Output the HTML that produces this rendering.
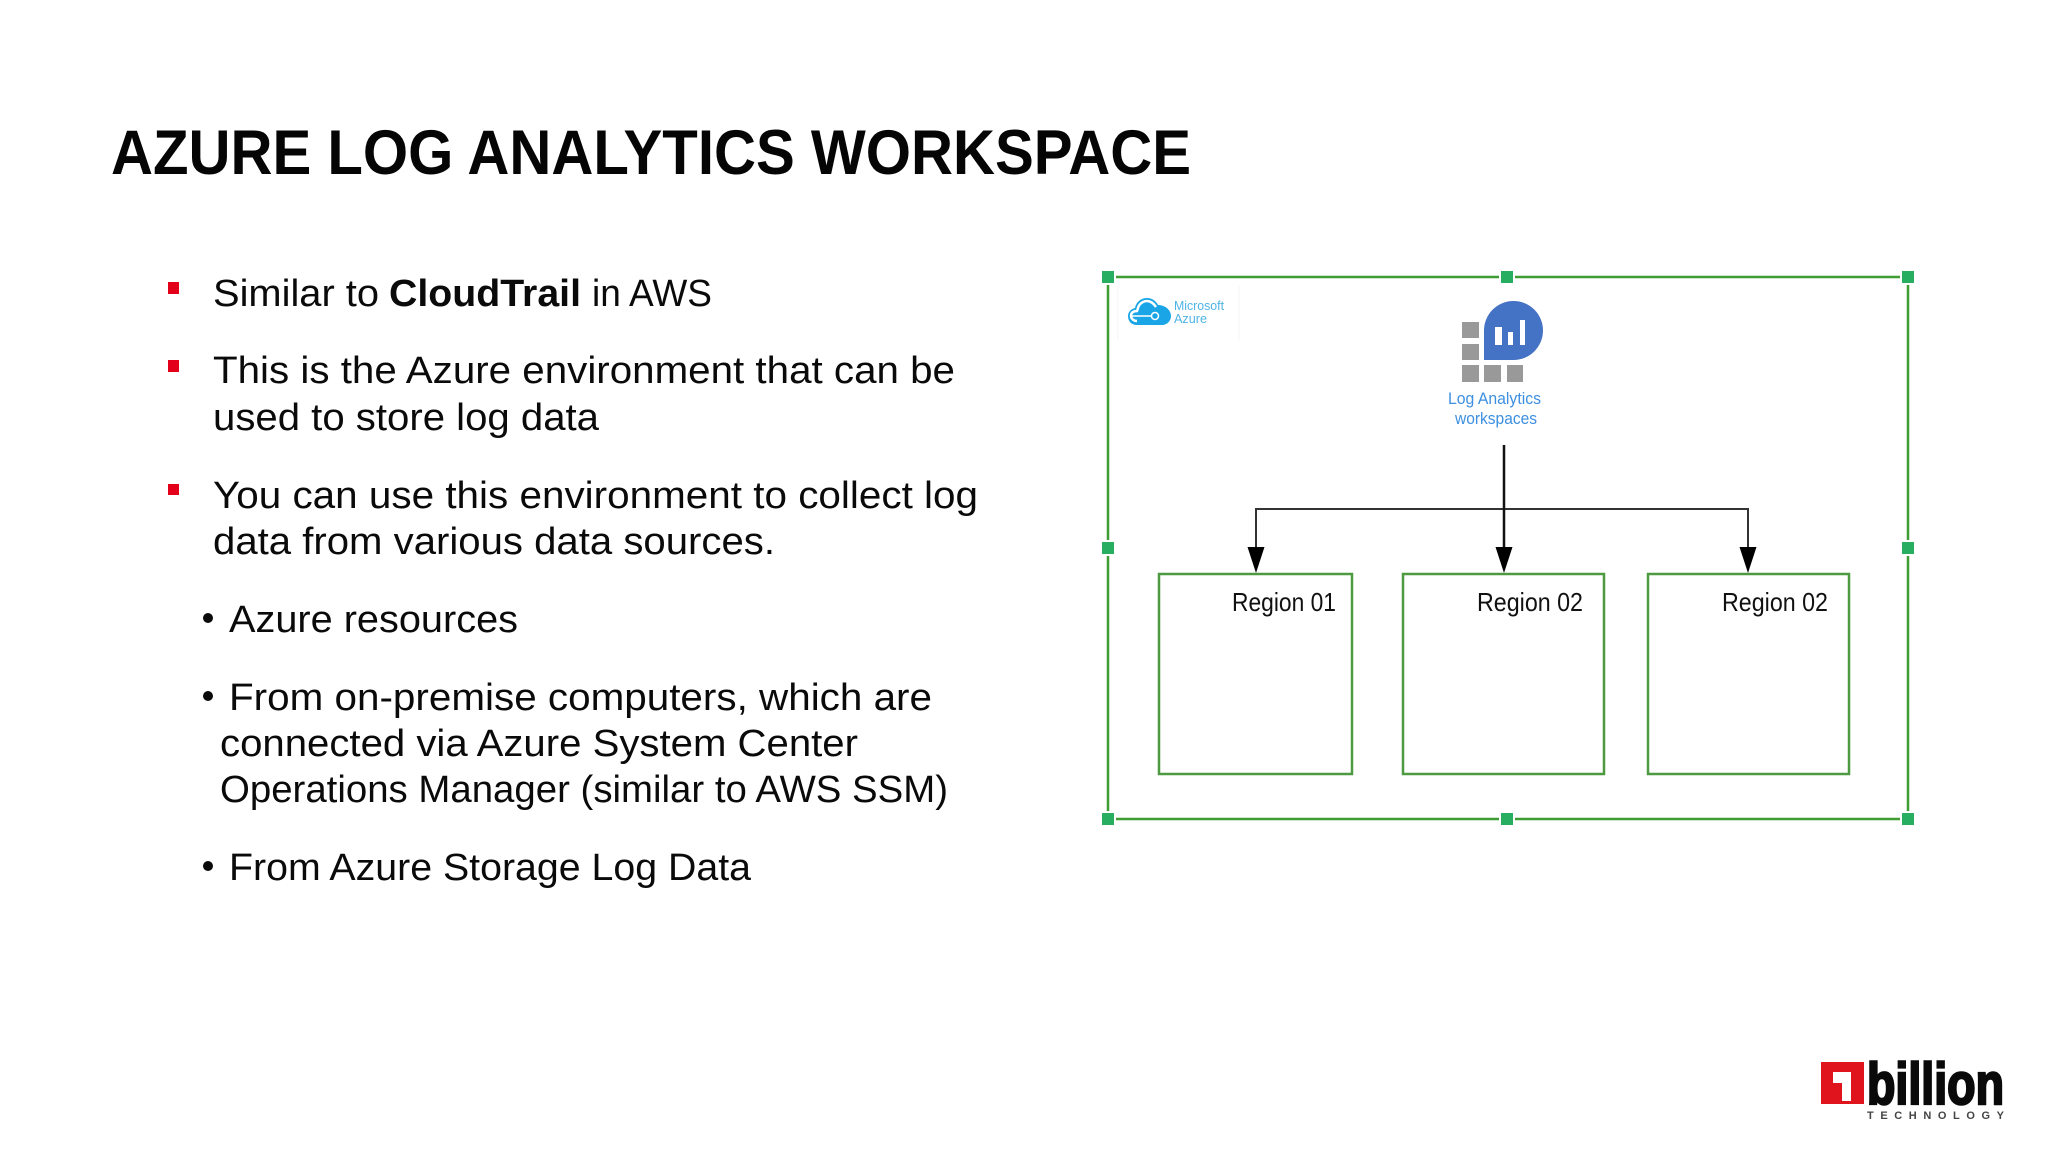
<!DOCTYPE html>
<html><head><meta charset="utf-8"><style>html,body{margin:0;padding:0;background:#fff}svg{display:block}text{font-family:"Liberation Sans",sans-serif}</style></head>
<body>
<svg width="2048" height="1152" viewBox="0 0 2048 1152" xmlns="http://www.w3.org/2000/svg">
<rect width="2048" height="1152" fill="#fff"/>
<text x="111" y="174" font-size="63" font-weight="700" fill="#050505" textLength="1080" lengthAdjust="spacingAndGlyphs">AZURE LOG ANALYTICS WORKSPACE</text>
<g fill="#e2001a">
<rect x="168" y="282" width="11" height="12"/><rect x="168" y="360" width="11" height="12"/><rect x="168" y="484" width="11" height="11"/>
</g>
<g fill="#0a0a0a"><circle cx="208" cy="618" r="5"/><circle cx="208" cy="696" r="5"/><circle cx="208" cy="866" r="5"/></g>
<g font-size="38" fill="#0a0a0a">
<text x="213" y="306" textLength="166" lengthAdjust="spacingAndGlyphs">Similar to</text>
<text x="389" y="306" font-weight="700" textLength="192" lengthAdjust="spacingAndGlyphs">CloudTrail</text>
<text x="592" y="306" textLength="120" lengthAdjust="spacingAndGlyphs">in AWS</text>
<text x="213" y="383" textLength="742" lengthAdjust="spacingAndGlyphs">This is the Azure environment that can be</text>
<text x="213" y="430" textLength="386" lengthAdjust="spacingAndGlyphs">used to store log data</text>
<text x="213" y="508" textLength="765" lengthAdjust="spacingAndGlyphs">You can use this environment to collect log</text>
<text x="213" y="554" textLength="562" lengthAdjust="spacingAndGlyphs">data from various data sources.</text>
<text x="229" y="632" textLength="289" lengthAdjust="spacingAndGlyphs">Azure resources</text>
<text x="229" y="710" textLength="703" lengthAdjust="spacingAndGlyphs">From on-premise computers, which are</text>
<text x="220" y="756" textLength="638" lengthAdjust="spacingAndGlyphs">connected via Azure System Center</text>
<text x="220" y="802" textLength="728" lengthAdjust="spacingAndGlyphs">Operations Manager (similar to AWS SSM)</text>
<text x="229" y="880" textLength="522" lengthAdjust="spacingAndGlyphs">From Azure Storage Log Data</text>
</g>
<!-- frame -->
<g stroke="#3f9c35" stroke-width="2.500" fill="none">
<path d="M1116 277H1499M1515 277H1900M1108 285V540M1108 556V811M1116 819H1499M1515 819H1900M1908 285V540M1908 556V811"/>
</g>
<g fill="#27ae60">
<rect x="1102" y="271" width="12" height="12"/><rect x="1501" y="271" width="12" height="12"/><rect x="1902" y="271" width="12" height="12"/>
<rect x="1102" y="542" width="12" height="12"/><rect x="1902" y="542" width="12" height="12"/>
<rect x="1102" y="813" width="12" height="12"/><rect x="1501" y="813" width="12" height="12"/><rect x="1902" y="813" width="12" height="12"/>
</g>
<!-- azure logo -->
<path d="M1118 285V340M1239 285V340" stroke="#f6f6f6" stroke-width="1"/>
<path d="M1137 325c-6 0-9-4-9-9 0-4 3-7 7-8 1-6 6-10 12-10 5 0 9 3 11 7 7 0 13 5 13 11 0 5-4 9-9 9z" fill="#19a5e6"/>
<path d="M1137 321c-4 0-6-3-6-5 0-3 2-5 6-5l1-3c1-4 5-7 9-7 4 0 7 3 9 6" fill="none" stroke="#fff" stroke-width="2.500"/>
<path d="M1131 316H1152" stroke="#fff" stroke-width="1.500"/><circle cx="1155" cy="316" r="3.500" fill="#19a5e6" stroke="#fff" stroke-width="1.500"/>
<text x="1174" y="310" font-size="13" fill="#4fb4e6" textLength="50" lengthAdjust="spacingAndGlyphs">Microsoft</text>
<text x="1174" y="323" font-size="13" fill="#4fb4e6" textLength="33" lengthAdjust="spacingAndGlyphs">Azure</text>
<!-- log analytics icon -->
<g fill="#999">
<rect x="1462" y="322" width="17" height="16"/><rect x="1462" y="344" width="17" height="16"/><rect x="1462" y="365" width="17" height="17"/>
<rect x="1484" y="365" width="17" height="17"/><rect x="1507" y="365" width="16" height="17"/>
</g>
<path d="M1484 360V330.500a29.500 29.500 0 1 1 29.500 29.500z" fill="#4472c4"/>
<g fill="#fff"><rect x="1495" y="327" width="7" height="18"/><rect x="1508" y="332" width="5" height="13"/><rect x="1520" y="320" width="5" height="25"/></g>
<text x="1448" y="404" font-size="17" fill="#3d8fe0" textLength="93" lengthAdjust="spacingAndGlyphs">Log Analytics</text>
<text x="1455" y="424" font-size="17" fill="#3d8fe0" textLength="82" lengthAdjust="spacingAndGlyphs">workspaces</text>
<!-- connectors -->
<path d="M1256 550V509H1748V550" stroke="#333" stroke-width="2" fill="none"/>
<path d="M1504 445V550" stroke="#111" stroke-width="2.500" fill="none"/>
<g fill="#000"><path d="M1247.500 547H1264.500L1256 573z"/><path d="M1495.500 547H1512.500L1504 573z"/><path d="M1739.500 547H1756.500L1748 573z"/></g>
<!-- regions -->
<g fill="#fff" stroke="#4d9a40" stroke-width="2.500">
<rect x="1159" y="574" width="193" height="200"/><rect x="1403" y="574" width="201" height="200"/><rect x="1648" y="574" width="201" height="200"/>
</g>
<g font-size="26" fill="#111">
<text x="1232" y="611" textLength="104" lengthAdjust="spacingAndGlyphs">Region 01</text>
<text x="1477" y="611" textLength="106" lengthAdjust="spacingAndGlyphs">Region 02</text>
<text x="1722" y="611" textLength="106" lengthAdjust="spacingAndGlyphs">Region 02</text>
</g>
<!-- 1billion logo -->
<rect x="1821" y="1062" width="43" height="42" fill="#e0141c"/>
<path d="M1833 1072H1851V1101H1842V1083H1833z" fill="#fff"/>
<text x="1867" y="1104" font-size="58" font-weight="700" fill="#0a0a0a" stroke="#0a0a0a" stroke-width="2.500" textLength="137" lengthAdjust="spacingAndGlyphs">billion</text>
<text x="1867" y="1119" font-size="11" font-weight="700" fill="#444" textLength="137">TECHNOLOGY</text>
</svg>
</body></html>
